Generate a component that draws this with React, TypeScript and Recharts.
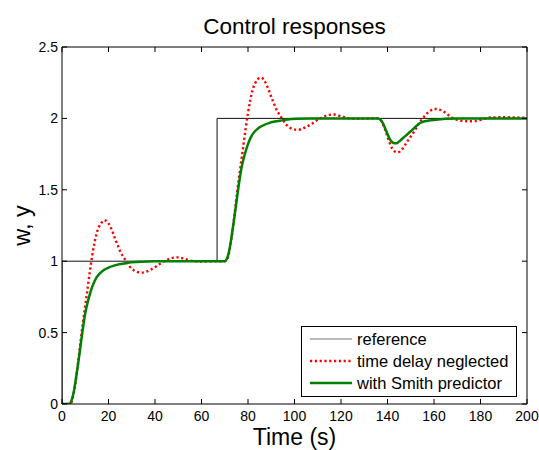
import { LineChart, Line, XAxis, YAxis, Legend, Label } from "recharts";

// 参考信号 w (阶跃)
const reference: [number, number][] = [
  [0, 0], [0, 1], [66.7, 1], [66.7, 2], [200, 2],
];

// 忽略时滞的响应 (红色点线)
const timeDelayNeglected: [number, number][] = [
  [0, 0], [3, 0], [4, 0.01], [5, 0.07], [6, 0.17], [7, 0.3], [8, 0.44], [9, 0.57],
  [10, 0.69], [11, 0.81], [12, 0.93], [13, 1.04], [14, 1.13], [15, 1.2], [16, 1.245],
  [17, 1.27], [18, 1.285], [19, 1.283], [20, 1.265], [21, 1.235], [22, 1.195], [23, 1.15],
  [24, 1.11], [25, 1.07], [26, 1.04], [27, 1.015], [28, 0.99], [29, 0.965], [30, 0.948],
  [31, 0.935], [32, 0.927], [34, 0.92], [36, 0.925], [38, 0.94], [40, 0.958], [42, 0.98],
  [44, 1.0], [46, 1.015], [48, 1.025], [50, 1.027], [52, 1.02], [54, 1.01], [56, 1.002],
  [60, 0.998], [66.7, 1.0],
  [70, 1.0], [71, 1.01], [72, 1.07], [73, 1.17], [74, 1.3], [75, 1.44], [76, 1.57],
  [77, 1.69], [78, 1.81], [79, 1.93], [80, 2.04], [81, 2.13], [82, 2.2], [83, 2.245],
  [84, 2.27], [85, 2.285], [86, 2.283], [87, 2.265], [88, 2.235], [89, 2.195], [90, 2.15],
  [91, 2.11], [92, 2.07], [93, 2.04], [94, 2.015], [95, 1.99], [96, 1.965], [97, 1.948],
  [98, 1.935], [99, 1.927], [101, 1.92], [103, 1.925], [105, 1.94], [107, 1.958],
  [109, 1.98], [111, 2.0], [113, 2.015], [115, 2.025], [117, 2.027], [119, 2.02],
  [121, 2.01], [123, 2.002], [127, 1.998], [133, 2.0], [136, 2.0],
  [137, 1.99], [138, 1.96], [139, 1.92], [140, 1.87], [141, 1.825], [142, 1.79],
  [143, 1.77], [144, 1.763], [145, 1.765], [146, 1.78], [147, 1.8], [148, 1.826],
  [149, 1.85], [150, 1.873], [151, 1.896], [152, 1.923], [153, 1.95], [154, 1.977],
  [155, 1.998], [156, 2.017], [157, 2.035], [158, 2.05], [159, 2.06], [160, 2.066],
  [161, 2.066], [162, 2.063], [164, 2.05], [166, 2.025], [168, 2.002], [170, 1.99],
  [172, 1.983], [175, 1.98], [178, 1.982], [181, 1.995], [184, 2.006], [190, 2.008],
  [196, 2.006], [200, 2.004],
];

// 带 Smith 预估器的响应 (绿色实线)
const withSmithPredictor: [number, number][] = [
  [0, 0], [3, 0], [4, 0.02], [5, 0.08], [6, 0.18], [7, 0.29], [8, 0.41], [9, 0.53],
  [10, 0.635], [11, 0.71], [12, 0.77], [13, 0.82], [14, 0.86], [15, 0.89], [16, 0.91],
  [17, 0.925], [18, 0.938], [20, 0.955], [22, 0.967], [24, 0.976], [26, 0.982],
  [28, 0.988], [30, 0.992], [34, 0.997], [40, 1.0], [66.7, 1.0],
  [70, 1.0], [71, 1.02], [72, 1.08], [73, 1.18], [74, 1.29], [75, 1.41], [76, 1.53],
  [77, 1.635], [78, 1.71], [79, 1.77], [80, 1.82], [81, 1.86], [82, 1.89], [83, 1.91],
  [84, 1.925], [85, 1.938], [87, 1.955], [89, 1.967], [91, 1.976], [93, 1.982],
  [95, 1.988], [97, 1.992], [101, 1.997], [107, 2.0], [136, 2.0],
  [137, 1.99], [138, 1.967], [139, 1.93], [140, 1.89], [141, 1.855], [142, 1.835],
  [143, 1.826], [144, 1.826], [145, 1.838], [146, 1.852], [147, 1.867], [148, 1.881],
  [149, 1.896], [150, 1.91], [151, 1.925], [152, 1.94], [153, 1.955], [154, 1.968],
  [156, 1.98], [158, 1.986], [161, 1.99], [165, 1.997], [170, 2.0], [200, 2.0],
];

const xTicks = [0, 20, 40, 60, 80, 100, 120, 140, 160, 180, 200];
const yTicks = [0, 0.5, 1, 1.5, 2, 2.5];

const toRows = (pts: [number, number][]) => pts.map(([t, v]) => ({ t, v }));

const seriesStyle: Record<string, { stroke: string; width: number; dash?: string }> = {
  reference: { stroke: "#111", width: 1 },
  "time delay neglected": { stroke: "#ff0000", width: 2.4, dash: "2.2 2.6" },
  "with Smith predictor": { stroke: "#008000", width: 2.5 },
};

const FONT = "'Liberation Sans', Arial, Helvetica, sans-serif";

function LegendBox({ payload }: any) {
  const items = payload ?? [];
  return (
    <svg width={216} height={72} style={{ display: "block" }}>
      <rect x={0.5} y={0.5} width={215} height={70} fill="#fff" stroke="#000" />
      {items.map((e: any, i: number) => {
        const s = seriesStyle[e.value] ?? { stroke: e.color, width: 1 };
        const y = 13 + i * 22;
        return (
          <g key={e.value}>
            <line
              x1={9}
              x2={51}
              y1={y}
              y2={y}
              stroke={i === 0 ? "#777" : s.stroke}
              strokeWidth={s.width}
              strokeDasharray={s.dash}
            />
            <text x={56} y={y} dominantBaseline="central" fontSize={16.5} fill="#000">
              {e.value}
            </text>
          </g>
        );
      })}
    </svg>
  );
}

export default function App() {
  const tickStyle = { fill: "#000", fontSize: 14 };
  return (
    <div style={{ position: "absolute", left: 0, top: 0, width: 539, height: 450, fontFamily: FONT, background: "#fff" }}>
      <LineChart width={539} height={450} margin={{ top: 46, right: 11, bottom: 16, left: 0 }}>
        <XAxis
          xAxisId="b"
          type="number"
          dataKey="t"
          domain={[0, 200]}
          ticks={xTicks}
          height={30}
          tickSize={-5}
          tickMargin={12}
          tick={tickStyle}
          axisLine={{ stroke: "#000" }}
          tickLine={{ stroke: "#000" }}
          allowDataOverflow
        >
          <Label
            content={(p: any) => {
              const vb = p.viewBox ?? { x: 62, y: 404, width: 465, height: 30 };
              return (
                <text x={vb.x + vb.width / 2} y={vb.y + 41} textAnchor="middle" fontSize={23} fill="#000">
                  Time (s)
                </text>
              );
            }}
          />
        </XAxis>
        <XAxis
          xAxisId="top"
          orientation="top"
          type="number"
          dataKey="t"
          domain={[0, 200]}
          ticks={xTicks}
          height={1}
          tickSize={-5}
          tick={() => <g />}
          axisLine={{ stroke: "#000" }}
          tickLine={{ stroke: "#000" }}
          allowDataOverflow
        >
          <Label
            content={(p: any) => {
              const vb = p.viewBox ?? { x: 62, y: 46, width: 465, height: 1 };
              return (
                <text x={vb.x + vb.width / 2} y={vb.y + vb.height - 13} textAnchor="middle" fontSize={22.5} fill="#000">
                  Control responses
                </text>
              );
            }}
          />
        </XAxis>
        <YAxis
          yAxisId="l"
          type="number"
          domain={[0, 2.5]}
          ticks={yTicks}
          width={62}
          tickSize={-5}
          tickMargin={9}
          tick={tickStyle}
          axisLine={{ stroke: "#000" }}
          tickLine={{ stroke: "#000" }}
          allowDataOverflow
        >
          <Label
            content={(p: any) => {
              const vb = p.viewBox ?? { x: 0, y: 47, width: 62, height: 357 };
              const cx = 22;
              const cy = vb.y + vb.height / 2;
              return (
                <text
                  x={cx}
                  y={cy}
                  textAnchor="middle"
                  dominantBaseline="central"
                  transform={`rotate(-90 ${cx} ${cy})`}
                  fontSize={23.5}
                  fill="#000"
                >
                  w, y
                </text>
              );
            }}
          />
        </YAxis>
        <YAxis
          yAxisId="r"
          orientation="right"
          type="number"
          domain={[0, 2.5]}
          ticks={yTicks}
          width={1}
          tickSize={-5}
          tick={() => <g />}
          axisLine={{ stroke: "#000" }}
          tickLine={{ stroke: "#000" }}
          allowDataOverflow
        />
        <Legend
          layout="vertical"
          align="center"
          verticalAlign="middle"
          content={LegendBox}
          wrapperStyle={{ position: "absolute", left: 301, top: 326, width: 216, height: 72 }}
        />
        {/* 参考信号挂在上/右轴上，使两条镜像轴也被绘制 */}
        <Line
          xAxisId="top"
          yAxisId="r"
          data={toRows(reference)}
          dataKey="v"
          name="reference"
          type="linear"
          stroke={seriesStyle.reference.stroke}
          strokeWidth={seriesStyle.reference.width}
          dot={false}
          activeDot={false}
          isAnimationActive={false}
        />
        <Line
          xAxisId="b"
          yAxisId="l"
          data={toRows(timeDelayNeglected)}
          dataKey="v"
          name="time delay neglected"
          type="monotone"
          stroke={seriesStyle["time delay neglected"].stroke}
          strokeWidth={seriesStyle["time delay neglected"].width}
          strokeDasharray={seriesStyle["time delay neglected"].dash}
          dot={false}
          activeDot={false}
          isAnimationActive={false}
        />
        <Line
          xAxisId="b"
          yAxisId="l"
          data={toRows(withSmithPredictor)}
          dataKey="v"
          name="with Smith predictor"
          type="monotone"
          stroke={seriesStyle["with Smith predictor"].stroke}
          strokeWidth={seriesStyle["with Smith predictor"].width}
          dot={false}
          activeDot={false}
          isAnimationActive={false}
        />
      </LineChart>
    </div>
  );
}
